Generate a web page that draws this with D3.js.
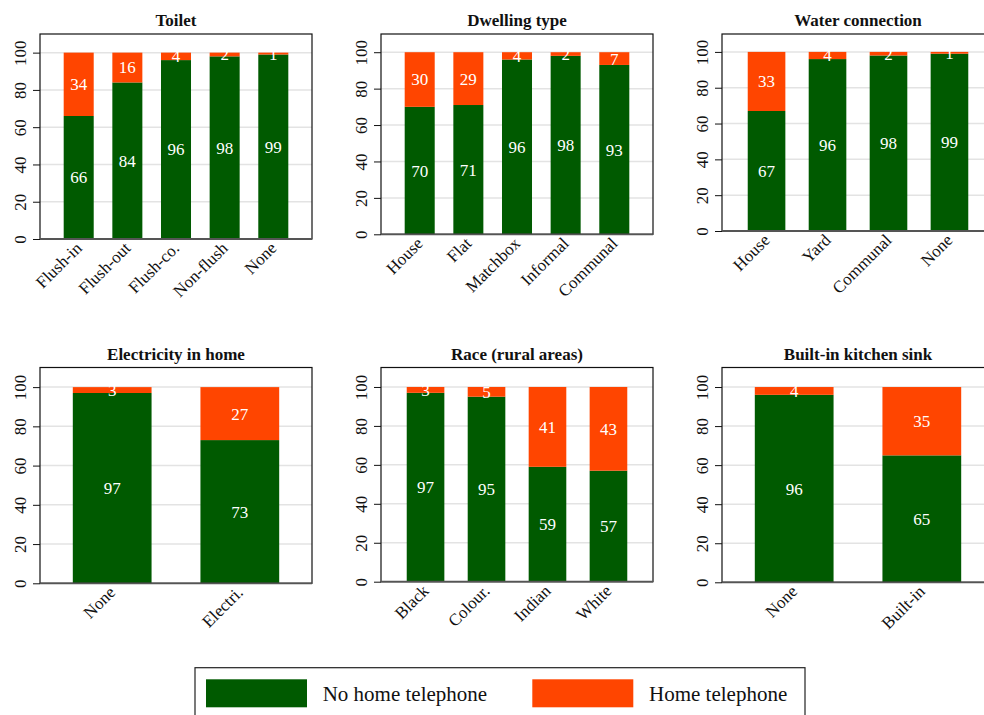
<html>
<meta charset='utf-8'>
<head>
    <script src="https://d3js.org/d3.v7.min.js"></script>
    <style>
      body { margin: 0; background: white; }
      text { font-family: "Liberation Serif", "Times New Roman", serif; }
    </style>
</head>
<body>
<div id='viz'></div>
<script>
    // data (percent of households)
    let titles = ['Toilet', 'Dwelling type', 'Water connection',
                  'Electricity in home', 'Race (rural areas)', 'Built-in kitchen sink'];

    let toiletCats = ['Flush-in', 'Flush-out', 'Flush-co.', 'Non-flush', 'None'];
    let toiletNo   = [66, 84, 96, 98, 99];
    let toiletYes  = [34, 16, 4, 2, 1];

    let dwellCats = ['House', 'Flat', 'Matchbox', 'Informal', 'Communal'];
    let dwellNo   = [70, 71, 96, 98, 93];
    let dwellYes  = [30, 29, 4, 2, 7];

    let waterCats = ['House', 'Yard', 'Communal', 'None'];
    let waterNo   = [67, 96, 98, 99];
    let waterYes  = [33, 4, 2, 1];

    let elecCats = ['None', 'Electri.'];
    let elecNo   = [97, 73];
    let elecYes  = [3, 27];

    let raceCats = ['Black', 'Colour.', 'Indian', 'White'];
    let raceNo   = [97, 95, 59, 57];
    let raceYes  = [3, 5, 41, 43];

    let sinkCats = ['None', 'Built-in'];
    let sinkNo   = [96, 65];
    let sinkYes  = [4, 35];

    let yTicks = [0, 20, 40, 60, 80, 100];
    let seriesNames = ['No home telephone', 'Home telephone'];
    let colors = ['#005a00', '#ff4500'];

    let panels = [
      {cats: toiletCats, no: toiletNo, yes: toiletYes},
      {cats: dwellCats, no: dwellNo, yes: dwellYes},
      {cats: waterCats, no: waterNo, yes: waterYes},
      {cats: elecCats, no: elecNo, yes: elecYes},
      {cats: raceCats, no: raceNo, yes: raceYes},
      {cats: sinkCats, no: sinkNo, yes: sinkYes}
    ];

    // layout
    let lefts = [40, 381, 722];
    let plotW = 272;
    let tops = [34, 367.5];
    let bottoms = [239, 234.3, 231, 583.3, 581.7, 582.3];
    let outerPad = {2: 0.257, 4: 0.422, 5: 0.487};

    let svg = d3.select('#viz').append('svg')
                .attr('width', 984)
                .attr('height', 715);

    panels.forEach((p, i) => {
      let left = lefts[i % 3];
      let top = tops[Math.floor(i / 3)];
      let bottom = bottoms[i];

      let x = d3.scaleBand()
                .domain(p.cats)
                .range([left, left + plotW])
                .paddingInner(0.383)
                .paddingOuter(outerPad[p.cats.length]);
      let y = d3.scaleLinear().domain([0, 110]).range([bottom, top]);

      let g = svg.append('g');

      // gridlines
      g.selectAll('.grid')
        .data(yTicks)
        .enter().append('line')
        .attr('x1', left).attr('x2', left + plotW)
        .attr('y1', d => y(d)).attr('y2', d => y(d))
        .attr('stroke', '#e3e3e3')
        .attr('stroke-width', 1.5);

      // bars
      p.cats.forEach((c, j) => {
        g.append('rect')
          .attr('x', x(c)).attr('width', x.bandwidth())
          .attr('y', y(p.no[j])).attr('height', y(0) - y(p.no[j]))
          .attr('fill', colors[0]);
        g.append('rect')
          .attr('x', x(c)).attr('width', x.bandwidth())
          .attr('y', y(p.no[j] + p.yes[j])).attr('height', y(p.no[j]) - y(p.no[j] + p.yes[j]))
          .attr('fill', colors[1]);

        g.append('text')
          .attr('x', x(c) + x.bandwidth() / 2)
          .attr('y', y(p.no[j] / 2))
          .attr('dy', '0.35em')
          .attr('text-anchor', 'middle')
          .attr('font-size', '17px')
          .attr('fill', 'white')
          .text(p.no[j]);
        g.append('text')
          .attr('x', x(c) + x.bandwidth() / 2)
          .attr('y', y(p.no[j] + p.yes[j] / 2))
          .attr('dy', '0.35em')
          .attr('text-anchor', 'middle')
          .attr('font-size', '17px')
          .attr('fill', 'white')
          .text(p.yes[j]);
      });

      // frame
      g.append('rect')
        .attr('x', left).attr('y', top)
        .attr('width', plotW).attr('height', bottom - top)
        .attr('fill', 'none')
        .attr('stroke', '#111')
        .attr('stroke-width', 1.2);
      g.append('line')
        .attr('x1', left).attr('x2', left + plotW)
        .attr('y1', bottom).attr('y2', bottom)
        .attr('stroke', '#555')
        .attr('stroke-width', 1.8);

      // y axis
      let ya = g.append('g')
        .attr('transform', `translate(${left},0)`)
        .call(d3.axisLeft(y).tickValues(yTicks).tickSize(7));
      ya.select('.domain').remove();
      ya.selectAll('line').attr('stroke', '#111');
      ya.selectAll('text')
        .attr('transform', 'rotate(-90)')
        .attr('x', 0).attr('y', -14).attr('dy', 0)
        .attr('text-anchor', 'middle')
        .attr('font-size', '17px')
        .attr('font-family', '"Liberation Serif", "Times New Roman", serif')
        .attr('fill', '#111');

      // x labels
      g.selectAll('.xlab')
        .data(p.cats)
        .enter().append('text')
        .attr('transform', d => `translate(${x(d) + x.bandwidth() / 2},${bottom + 6}) rotate(-45)`)
        .attr('dy', '0.35em')
        .attr('text-anchor', 'end')
        .attr('font-size', '17px')
        .attr('fill', '#111')
        .text(d => d);

      // title
      g.append('text')
        .attr('x', left + plotW / 2)
        .attr('y', top - 8)
        .attr('text-anchor', 'middle')
        .attr('font-size', '17px')
        .attr('font-weight', 'bold')
        .attr('fill', '#111')
        .text(titles[i]);
    });

    // legend
    let leg = svg.append('g');
    leg.append('rect')
      .attr('x', 195).attr('y', 667.7)
      .attr('width', 610).attr('height', 70)
      .attr('fill', 'white')
      .attr('stroke', '#222')
      .attr('stroke-width', 1.2);
    let swX = [206, 532.3];
    let txX = [322.7, 649];
    seriesNames.forEach((s, k) => {
      leg.append('rect')
        .attr('x', swX[k]).attr('y', 679.3)
        .attr('width', 101).attr('height', 28)
        .attr('fill', colors[k]);
      leg.append('text')
        .attr('x', txX[k]).attr('y', 700.5)
        .attr('font-size', '21px')
        .attr('fill', '#111')
        .text(s);
    });
</script>
</body>
</html>
